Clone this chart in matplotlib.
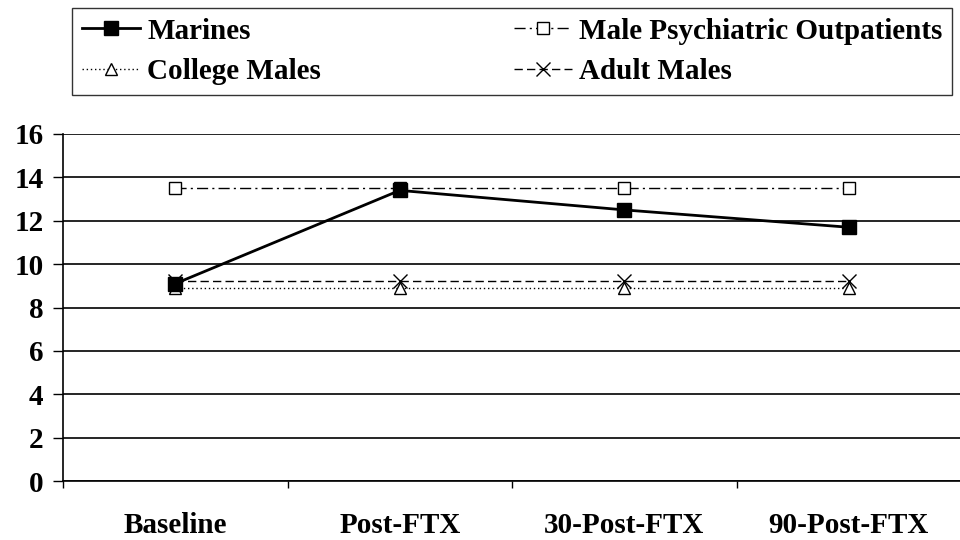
import matplotlib
matplotlib.use("Agg")
import matplotlib.pyplot as plt

plt.rcParams['font.family'] = ['Liberation Serif', 'DejaVu Serif']
plt.rcParams['font.weight'] = 'bold'

categories = ["Baseline", "Post-FTX", "30-Post-FTX", "90-Post-FTX"]
marines = [9.1, 13.4, 12.5, 11.7]
psych = [13.5, 13.5, 13.5, 13.5]
college = [8.9, 8.9, 8.9, 8.9]
adult = [9.2, 9.2, 9.2, 9.2]
yticks = [0, 2, 4, 6, 8, 10, 12, 14, 16]

FS = 21

fig = plt.figure(figsize=(9.6, 5.4), dpi=100)
ax = fig.add_axes([63/960, 1 - 481/540, (961 - 63)/960, (481 - 134)/540])

x = list(range(len(categories)))
h1, = ax.plot(x, marines, color='black', lw=2, marker='s', ms=10,
              mfc='black', mec='black', label='Marines', zorder=5)
h2, = ax.plot(x, psych, color='black', lw=1, linestyle=(0, (8, 3, 1.5, 3)),
              marker='s', ms=9, mfc='white', mec='black', mew=1,
              label='Male Psychiatric Outpatients', zorder=4)
h3, = ax.plot(x, college, color='black', lw=1, linestyle=(0, (1, 2)),
              marker='^', ms=9, mfc='white', mec='black', mew=1,
              label='College Males', zorder=3)
h4, = ax.plot(x, adult, color='black', lw=1, linestyle=(0, (6, 3)),
              marker='x', ms=10, mec='black', mew=1,
              label='Adult Males', zorder=4)

ax.set_xlim(-0.5, len(categories) - 0.5)
ax.set_ylim(0, 16)
ax.set_yticks(yticks)
ax.set_yticklabels([str(v) for v in yticks], fontsize=FS, fontweight='bold')
ax.set_xticks([i - 0.5 for i in range(len(categories) + 1)])
ax.set_xticklabels([])
ax.set_xticks(x, minor=True)
ax.set_xticklabels(categories, minor=True, fontsize=FS, fontweight='bold')
ax.tick_params(axis='x', which='minor', length=0, pad=22)
ax.tick_params(axis='x', which='major', length=5, width=1, direction='out')
ax.tick_params(axis='y', length=7, width=1, direction='out', pad=7)
ax.yaxis.grid(True, color='black', lw=1.2)
ax.set_axisbelow(True)
for s in ['top', 'right']:
    ax.spines[s].set_visible(False)
ax.spines['left'].set_linewidth(1.2)
ax.spines['bottom'].set_linewidth(1.2)

leg = fig.legend(handles=[h1, h3, h2, h4], ncol=2, loc='upper left',
                 bbox_to_anchor=(72/960, 1 - 8/540), frameon=True,
                 fancybox=False, edgecolor='black',
                 prop={'weight': 'bold', 'size': FS},
                 handlelength=2.0, columnspacing=6.6, borderpad=0.33,
                 labelspacing=0.47, handletextpad=0.25, borderaxespad=0)
leg.get_frame().set_linewidth(1)

fig.savefig("out.png", dpi=100)
